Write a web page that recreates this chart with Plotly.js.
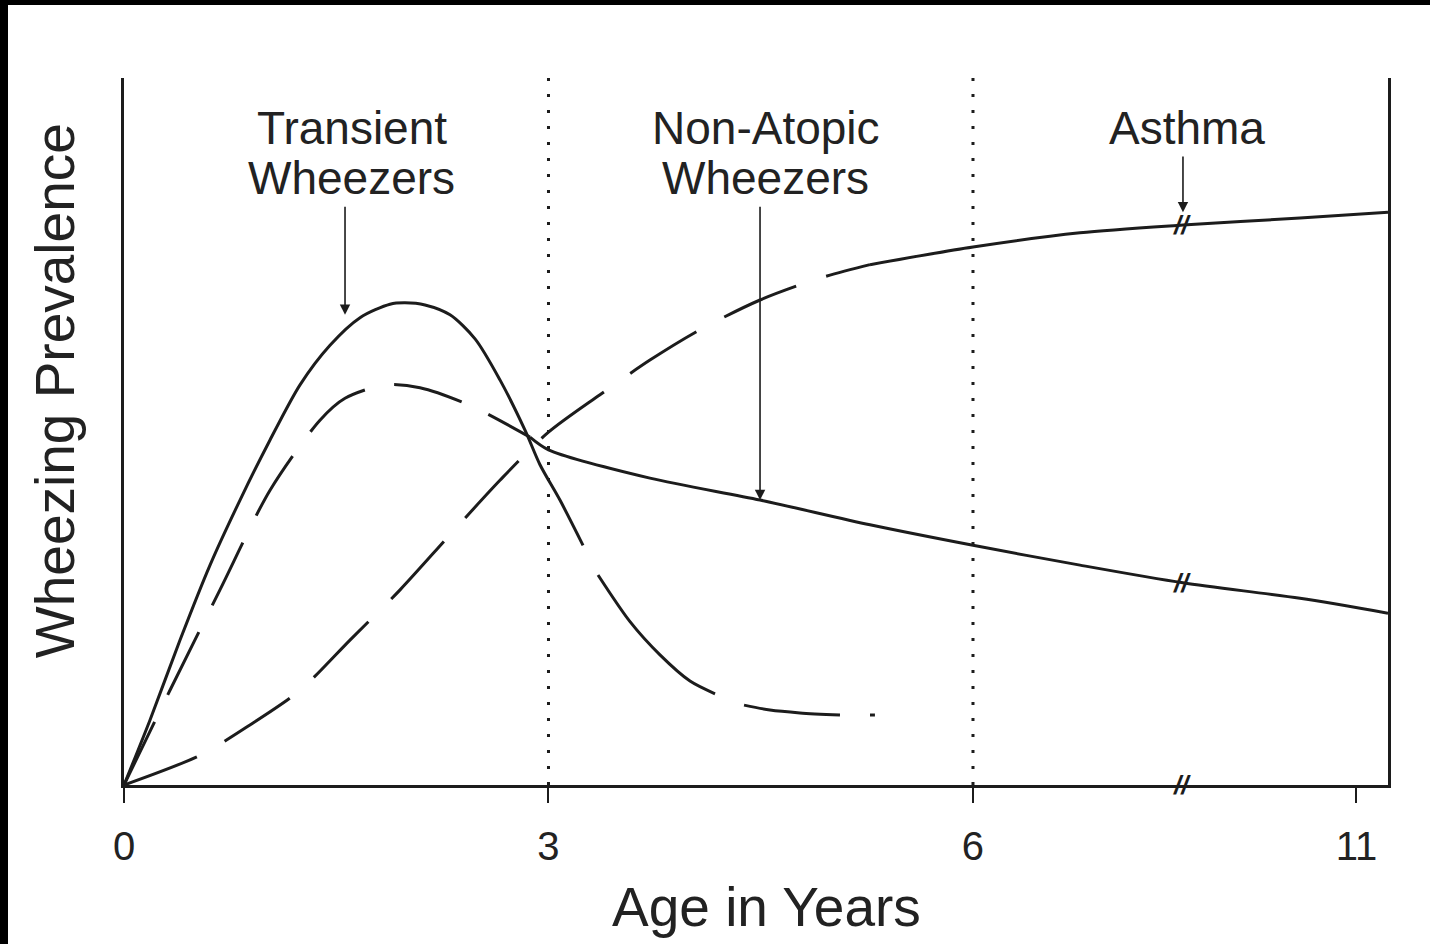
<!DOCTYPE html>
<html>
<head>
<meta charset="utf-8">
<script src="https://cdn.plot.ly/plotly-3.0.1.min.js"></script>
<style>
  html, body { margin: 0; padding: 0; background: #000; width: 1430px; height: 944px; overflow: hidden; }
  #chart { position: absolute; left: 8px; top: 5px; width: 1422px; height: 939px; background: #fff; }
</style>
</head>
<body>
<div id="chart"></div>
<script>
// Axis positions (the axis is broken after 6: "11" sits at position 8.71)
const tickPositions = [0, 3, 6, 8.71];
const tickLabels = ["0", "3", "6", "11"];
const dividerAges = [3, 6];
const breakPosition = 7.48;

// Transient wheezers: solid part, then a hand-drawn dashed tail (null = gap between dashes)
const transientSolidX = [0, 0.184, 0.396, 0.608, 0.820, 1.032, 1.244, 1.456, 1.668, 1.880, 1.986, 2.127, 2.304, 2.481, 2.657, 2.834, 2.940, 3.081, 3.244];
const transientSolidY = [0, 9.2, 20.5, 31.1, 40.3, 48.8, 56.6, 62.2, 66.1, 68.0, 68.2, 67.9, 66.5, 63.1, 57.3, 50.2, 45.3, 40.3, 33.9];
const transientTailX = [3.350, 3.576, 3.788, 4.0, 4.177, null, 4.382, 4.565, 4.777, 5.060, null, 5.272, 5.307];
const transientTailY = [29.7, 23.1, 18.4, 14.7, 12.9, null, 11.3, 10.6, 10.2, 9.9, null, 9.9, 9.9];

// Non-atopic wheezers: dashed early part, then solid
const nonAtopicDashX = [0, 0.325, 0.678, 1.032, 1.385, 1.562, 1.845, 2.092, 2.445, 2.869];
const nonAtopicDashY = [0, 13.4, 27.6, 41.7, 51.6, 54.7, 56.6, 56.2, 53.7, 49.2];
const nonAtopicSolidX = [2.869, 3.0, 3.717, 4.495, 5.272, 6.0, 6.756, 7.484, 8.311, 8.933];
const nonAtopicSolidY = [49.2, 47.4, 43.4, 40.3, 36.8, 33.9, 31.1, 28.6, 26.4, 24.3];

// Asthma: dashed early part, then solid
const asthmaDashX = [0, 0.537, 0.890, 1.244, 1.597, 1.951, 2.304, 2.657, 3.0, 3.364, 3.717, 4.071, 4.495, 4.919, 5.272];
const asthmaDashY = [0, 4.2, 8.5, 13.4, 20.5, 27.6, 35.4, 43.1, 49.9, 55.2, 60.1, 64.4, 68.6, 71.7, 73.6];
const asthmaSolidX = [5.272, 6.0, 6.756, 7.484, 8.311, 8.933];
const asthmaSolidY = [73.6, 76.1, 78.1, 79.2, 80.2, 81.0];

// Label texts and arrows
const labelLines = [["Transient", "Wheezers"], ["Non-Atopic", "Wheezers"], ["Asthma"]];
const labelX = [1.611, 4.537, 7.512];
const arrowX = [1.562, 4.495, 7.484];
const arrowTailY = [82.0, 82.0, 89.1];
const arrowHeadY = [66.5, 40.3, 81.0];
const xTitle = "Age in Years";
const yTitle = "Wheezing Prevalence";

const ink = "#1c1c1c";
const FONT = "Liberation Sans, Arial, Helvetica, sans-serif";

function seg(x, y, dash) {
  return { x: x, y: y, type: "scatter", mode: "lines", hoverinfo: "skip", connectgaps: false,
    line: { color: ink, width: 3, dash: dash, shape: "spline", smoothing: 0.8 } };
}

const traces = [
  seg(transientSolidX, transientSolidY, "solid"),
  seg(transientTailX, transientTailY, "solid"),
  seg(nonAtopicDashX, nonAtopicDashY, "70px,30px"),
  seg(nonAtopicSolidX, nonAtopicSolidY, "solid"),
  seg(asthmaDashX, asthmaDashY, "78px,32px"),
  seg(asthmaSolidX, asthmaSolidY, "solid")
];

const annotations = [];
const lineY = [92.9, 85.9];
labelLines.forEach((lines, i) => {
  lines.forEach((t, j) => {
    annotations.push({ x: labelX[i], y: lineY[j], xref: "x", yref: "y", text: t, showarrow: false,
      font: { family: FONT, size: 46, color: "#222" }, xanchor: "center", yanchor: "middle" });
  });
});
arrowX.forEach((x, i) => {
  annotations.push({ x: x, y: arrowHeadY[i], ax: x, ay: arrowTailY[i], axref: "x", ayref: "y",
    xref: "x", yref: "y", text: "", showarrow: true, arrowhead: 2, arrowsize: 1.3, arrowwidth: 1.6, arrowcolor: ink });
});
// break marks on the axis and on the two long curves
[0, nonAtopicSolidY[7], asthmaSolidY[3]].forEach(y => {
  annotations.push({ x: breakPosition, y: y, xref: "x", yref: "y", text: "<b><i>//</i></b>", showarrow: false,
    font: { family: FONT, size: 26, color: ink }, xanchor: "center", yanchor: "middle" });
});
// axis titles (placed as in the original: x title slightly right of centre, y title above centre)
annotations.push({ x: 0, y: 55.7, xref: "paper", yref: "y", xshift: -69, text: yTitle,
  textangle: -90, showarrow: false, font: { family: FONT, size: 55, color: "#222" },
  xanchor: "center", yanchor: "middle" });
annotations.push({ x: 0.5, y: 0, xref: "paper", yref: "paper", xshift: 10, yshift: -122, text: xTitle,
  showarrow: false, font: { family: FONT, size: 55, color: "#222" }, xanchor: "center", yanchor: "middle" });

const shapes = dividerAges.map(a => ({ type: "line", xref: "x", yref: "paper", x0: a, x1: a, y0: 0, y1: 1,
  line: { color: ink, width: 3, dash: "3px,13px" } }));

const layout = {
  width: 1422, height: 939,
  margin: { l: 116, r: 42, t: 73, b: 159 },
  paper_bgcolor: "#fff", plot_bgcolor: "#fff",
  showlegend: false,
  font: { family: FONT, color: "#222" },
  xaxis: {
    range: [0, 8.933], tickvals: tickPositions, ticktext: tickLabels,
    showgrid: false, zeroline: false, showline: true, linecolor: ink, linewidth: 3,
    ticks: "outside", ticklen: 15, tickwidth: 2, tickcolor: ink, ticklabelstandoff: 9,
    tickfont: { family: FONT, size: 40, color: "#222" }
  },
  yaxis: {
    range: [0, 100], showticklabels: false, ticks: "", showgrid: false, zeroline: false,
    showline: true, mirror: true, linecolor: ink, linewidth: 3
  },
  annotations: annotations,
  shapes: shapes
};

Plotly.newPlot("chart", traces, layout, { displayModeBar: false, staticPlot: true });
</script>
</body>
</html>
